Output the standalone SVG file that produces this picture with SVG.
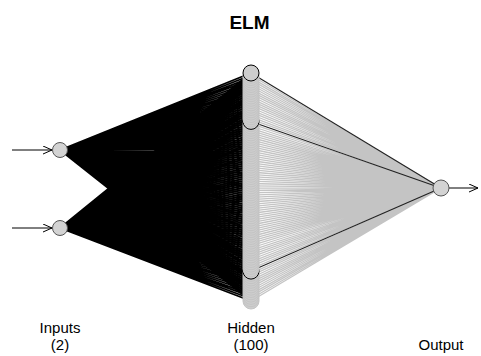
<svg xmlns="http://www.w3.org/2000/svg" width="481" height="356" viewBox="0 0 481 356">
<style>
text{font-family:"Liberation Sans",Arial,sans-serif;fill:#000}
.t{font-size:19px;font-weight:bold}
.l{font-size:15px}
.fb{stroke:#000;stroke-width:1.7;fill:none}
.fg{stroke:#c4c4c4;stroke-width:1.3;fill:none}
.ob{stroke:#222;stroke-width:1.1;fill:none}
.ar{stroke:#000;stroke-width:1;fill:none}
.n{fill:#d3d3d3;stroke:#555;stroke-width:1}
.h{fill:#cdcdcd;stroke:#c4c4c4;stroke-width:1}
.hb{fill:#cdcdcd;stroke:#000;stroke-width:1}
</style>
<defs>
<marker id="arr" markerWidth="10" markerHeight="10" refX="9" refY="4" orient="auto" markerUnits="userSpaceOnUse">
<path d="M0,0 L9,4 L0,8" fill="none" stroke="#000" stroke-width="1"/>
</marker>
</defs>
<rect width="481" height="356" fill="#fff"/>
<text class="t" x="249.5" y="29" text-anchor="middle">ELM</text>
<g id="connectors">
<path class="ar" d="M12,150 L52,150" marker-end="url(#arr)"/>
<path class="ar" d="M12,228 L52,228" marker-end="url(#arr)"/>
<path class="ar" d="M449,188 L478,188" marker-end="url(#arr)"/>
<path class="fb" d="M60,150L251,73.0M60,150L251,75.3M60,150L251,77.6M60,150L251,79.9M60,150L251,82.2M60,150L251,84.5M60,150L251,86.8M60,150L251,89.1M60,150L251,91.4M60,150L251,93.7M60,150L251,96.0M60,150L251,98.3M60,150L251,100.6M60,150L251,102.9M60,150L251,105.2M60,150L251,107.5M60,150L251,109.8M60,150L251,112.1M60,150L251,114.5M60,150L251,116.8M60,150L251,119.1M60,150L251,121.4M60,150L251,123.7M60,150L251,126.0M60,150L251,128.3M60,150L251,130.6M60,150L251,132.9M60,150L251,135.2M60,150L251,137.5M60,150L251,139.8M60,150L251,142.1M60,150L251,144.4M60,150L251,146.7M60,150L251,149.0M60,150L251,151.3M60,150L251,153.6M60,150L251,155.9M60,150L251,158.2M60,150L251,160.5M60,150L251,162.8M60,150L251,165.1M60,150L251,167.4M60,150L251,169.7M60,150L251,172.0M60,150L251,174.3M60,150L251,176.6M60,150L251,178.9M60,150L251,181.2M60,150L251,183.5M60,150L251,185.8M60,150L251,188.2M60,150L251,190.5M60,150L251,192.8M60,150L251,195.1M60,150L251,197.4M60,150L251,199.7M60,150L251,202.0M60,150L251,204.3M60,150L251,206.6M60,150L251,208.9M60,150L251,211.2M60,150L251,213.5M60,150L251,215.8M60,150L251,218.1M60,150L251,220.4M60,150L251,222.7M60,150L251,225.0M60,150L251,227.3M60,150L251,229.6M60,150L251,231.9M60,150L251,234.2M60,150L251,236.5M60,150L251,238.8M60,150L251,241.1M60,150L251,243.4M60,150L251,245.7M60,150L251,248.0M60,150L251,250.3M60,150L251,252.6M60,150L251,254.9M60,150L251,257.2M60,150L251,259.5M60,150L251,261.8M60,150L251,264.1M60,150L251,266.4M60,150L251,268.8M60,150L251,271.1M60,150L251,273.4M60,150L251,275.7M60,150L251,278.0M60,150L251,280.3M60,150L251,282.6M60,150L251,284.9M60,150L251,287.2M60,150L251,289.5M60,150L251,291.8M60,150L251,294.1M60,150L251,296.4M60,150L251,298.7M60,150L251,301.0"/>
<path class="fb" d="M60,228L251,73.0M60,228L251,75.3M60,228L251,77.6M60,228L251,79.9M60,228L251,82.2M60,228L251,84.5M60,228L251,86.8M60,228L251,89.1M60,228L251,91.4M60,228L251,93.7M60,228L251,96.0M60,228L251,98.3M60,228L251,100.6M60,228L251,102.9M60,228L251,105.2M60,228L251,107.5M60,228L251,109.8M60,228L251,112.1M60,228L251,114.5M60,228L251,116.8M60,228L251,119.1M60,228L251,121.4M60,228L251,123.7M60,228L251,126.0M60,228L251,128.3M60,228L251,130.6M60,228L251,132.9M60,228L251,135.2M60,228L251,137.5M60,228L251,139.8M60,228L251,142.1M60,228L251,144.4M60,228L251,146.7M60,228L251,149.0M60,228L251,151.3M60,228L251,153.6M60,228L251,155.9M60,228L251,158.2M60,228L251,160.5M60,228L251,162.8M60,228L251,165.1M60,228L251,167.4M60,228L251,169.7M60,228L251,172.0M60,228L251,174.3M60,228L251,176.6M60,228L251,178.9M60,228L251,181.2M60,228L251,183.5M60,228L251,185.8M60,228L251,188.2M60,228L251,190.5M60,228L251,192.8M60,228L251,195.1M60,228L251,197.4M60,228L251,199.7M60,228L251,202.0M60,228L251,204.3M60,228L251,206.6M60,228L251,208.9M60,228L251,211.2M60,228L251,213.5M60,228L251,215.8M60,228L251,218.1M60,228L251,220.4M60,228L251,222.7M60,228L251,225.0M60,228L251,227.3M60,228L251,229.6M60,228L251,231.9M60,228L251,234.2M60,228L251,236.5M60,228L251,238.8M60,228L251,241.1M60,228L251,243.4M60,228L251,245.7M60,228L251,248.0M60,228L251,250.3M60,228L251,252.6M60,228L251,254.9M60,228L251,257.2M60,228L251,259.5M60,228L251,261.8M60,228L251,264.1M60,228L251,266.4M60,228L251,268.8M60,228L251,271.1M60,228L251,273.4M60,228L251,275.7M60,228L251,278.0M60,228L251,280.3M60,228L251,282.6M60,228L251,284.9M60,228L251,287.2M60,228L251,289.5M60,228L251,291.8M60,228L251,294.1M60,228L251,296.4M60,228L251,298.7M60,228L251,301.0"/>
<path class="fg" d="M251,75.3L441,188M251,77.6L441,188M251,79.9L441,188M251,82.2L441,188M251,84.5L441,188M251,86.8L441,188M251,89.1L441,188M251,91.4L441,188M251,93.7L441,188M251,96.0L441,188M251,98.3L441,188M251,100.6L441,188M251,102.9L441,188M251,105.2L441,188M251,107.5L441,188M251,109.8L441,188M251,112.1L441,188M251,114.5L441,188M251,116.8L441,188M251,119.1L441,188M251,123.7L441,188M251,126.0L441,188M251,128.3L441,188M251,130.6L441,188M251,132.9L441,188M251,135.2L441,188M251,137.5L441,188M251,139.8L441,188M251,142.1L441,188M251,144.4L441,188M251,146.7L441,188M251,149.0L441,188M251,151.3L441,188M251,153.6L441,188M251,155.9L441,188M251,158.2L441,188M251,160.5L441,188M251,162.8L441,188M251,165.1L441,188M251,167.4L441,188M251,169.7L441,188M251,172.0L441,188M251,174.3L441,188M251,176.6L441,188M251,178.9L441,188M251,181.2L441,188M251,183.5L441,188M251,185.8L441,188M251,188.2L441,188M251,190.5L441,188M251,192.8L441,188M251,195.1L441,188M251,197.4L441,188M251,199.7L441,188M251,202.0L441,188M251,204.3L441,188M251,206.6L441,188M251,208.9L441,188M251,211.2L441,188M251,213.5L441,188M251,215.8L441,188M251,218.1L441,188M251,220.4L441,188M251,222.7L441,188M251,225.0L441,188M251,227.3L441,188M251,229.6L441,188M251,231.9L441,188M251,234.2L441,188M251,236.5L441,188M251,238.8L441,188M251,241.1L441,188M251,243.4L441,188M251,245.7L441,188M251,248.0L441,188M251,250.3L441,188M251,252.6L441,188M251,254.9L441,188M251,257.2L441,188M251,259.5L441,188M251,261.8L441,188M251,264.1L441,188M251,266.4L441,188M251,268.8L441,188M251,273.4L441,188M251,275.7L441,188M251,278.0L441,188M251,280.3L441,188M251,282.6L441,188M251,284.9L441,188M251,287.2L441,188M251,289.5L441,188M251,291.8L441,188M251,294.1L441,188M251,296.4L441,188M251,298.7L441,188M251,301.0L441,188"/>
<line class="ob" x1="251" y1="73" x2="441" y2="188"/>
<line class="ob" x1="251" y1="121.4" x2="441" y2="188"/>
<line class="ob" x1="251" y1="271.1" x2="441" y2="188"/>
</g>
<g id="in1"><circle class="n" cx="60" cy="150" r="7.5"/></g>
<g id="in2"><circle class="n" cx="60" cy="228" r="7.5"/></g>
<g id="h100"><circle class="h" cx="251" cy="301.0" r="8"/></g>
<g id="h99"><circle class="h" cx="251" cy="298.7" r="8"/></g>
<g id="h98"><circle class="h" cx="251" cy="296.4" r="8"/></g>
<g id="h97"><circle class="h" cx="251" cy="294.1" r="8"/></g>
<g id="h96"><circle class="h" cx="251" cy="291.8" r="8"/></g>
<g id="h95"><circle class="h" cx="251" cy="289.5" r="8"/></g>
<g id="h94"><circle class="h" cx="251" cy="287.2" r="8"/></g>
<g id="h93"><circle class="h" cx="251" cy="284.9" r="8"/></g>
<g id="h92"><circle class="h" cx="251" cy="282.6" r="8"/></g>
<g id="h91"><circle class="h" cx="251" cy="280.3" r="8"/></g>
<g id="h90"><circle class="h" cx="251" cy="278.0" r="8"/></g>
<g id="h89"><circle class="h" cx="251" cy="275.7" r="8"/></g>
<g id="h88"><circle class="h" cx="251" cy="273.4" r="8"/></g>
<g id="h87"><circle class="hb" cx="251" cy="271.1" r="8"/></g>
<g id="h86"><circle class="h" cx="251" cy="268.8" r="8"/></g>
<g id="h85"><circle class="h" cx="251" cy="266.4" r="8"/></g>
<g id="h84"><circle class="h" cx="251" cy="264.1" r="8"/></g>
<g id="h83"><circle class="h" cx="251" cy="261.8" r="8"/></g>
<g id="h82"><circle class="h" cx="251" cy="259.5" r="8"/></g>
<g id="h81"><circle class="h" cx="251" cy="257.2" r="8"/></g>
<g id="h80"><circle class="h" cx="251" cy="254.9" r="8"/></g>
<g id="h79"><circle class="h" cx="251" cy="252.6" r="8"/></g>
<g id="h78"><circle class="h" cx="251" cy="250.3" r="8"/></g>
<g id="h77"><circle class="h" cx="251" cy="248.0" r="8"/></g>
<g id="h76"><circle class="h" cx="251" cy="245.7" r="8"/></g>
<g id="h75"><circle class="h" cx="251" cy="243.4" r="8"/></g>
<g id="h74"><circle class="h" cx="251" cy="241.1" r="8"/></g>
<g id="h73"><circle class="h" cx="251" cy="238.8" r="8"/></g>
<g id="h72"><circle class="h" cx="251" cy="236.5" r="8"/></g>
<g id="h71"><circle class="h" cx="251" cy="234.2" r="8"/></g>
<g id="h70"><circle class="h" cx="251" cy="231.9" r="8"/></g>
<g id="h69"><circle class="h" cx="251" cy="229.6" r="8"/></g>
<g id="h68"><circle class="h" cx="251" cy="227.3" r="8"/></g>
<g id="h67"><circle class="h" cx="251" cy="225.0" r="8"/></g>
<g id="h66"><circle class="h" cx="251" cy="222.7" r="8"/></g>
<g id="h65"><circle class="h" cx="251" cy="220.4" r="8"/></g>
<g id="h64"><circle class="h" cx="251" cy="218.1" r="8"/></g>
<g id="h63"><circle class="h" cx="251" cy="215.8" r="8"/></g>
<g id="h62"><circle class="h" cx="251" cy="213.5" r="8"/></g>
<g id="h61"><circle class="h" cx="251" cy="211.2" r="8"/></g>
<g id="h60"><circle class="h" cx="251" cy="208.9" r="8"/></g>
<g id="h59"><circle class="h" cx="251" cy="206.6" r="8"/></g>
<g id="h58"><circle class="h" cx="251" cy="204.3" r="8"/></g>
<g id="h57"><circle class="h" cx="251" cy="202.0" r="8"/></g>
<g id="h56"><circle class="h" cx="251" cy="199.7" r="8"/></g>
<g id="h55"><circle class="h" cx="251" cy="197.4" r="8"/></g>
<g id="h54"><circle class="h" cx="251" cy="195.1" r="8"/></g>
<g id="h53"><circle class="h" cx="251" cy="192.8" r="8"/></g>
<g id="h52"><circle class="h" cx="251" cy="190.5" r="8"/></g>
<g id="h51"><circle class="h" cx="251" cy="188.2" r="8"/></g>
<g id="h50"><circle class="h" cx="251" cy="185.8" r="8"/></g>
<g id="h49"><circle class="h" cx="251" cy="183.5" r="8"/></g>
<g id="h48"><circle class="h" cx="251" cy="181.2" r="8"/></g>
<g id="h47"><circle class="h" cx="251" cy="178.9" r="8"/></g>
<g id="h46"><circle class="h" cx="251" cy="176.6" r="8"/></g>
<g id="h45"><circle class="h" cx="251" cy="174.3" r="8"/></g>
<g id="h44"><circle class="h" cx="251" cy="172.0" r="8"/></g>
<g id="h43"><circle class="h" cx="251" cy="169.7" r="8"/></g>
<g id="h42"><circle class="h" cx="251" cy="167.4" r="8"/></g>
<g id="h41"><circle class="h" cx="251" cy="165.1" r="8"/></g>
<g id="h40"><circle class="h" cx="251" cy="162.8" r="8"/></g>
<g id="h39"><circle class="h" cx="251" cy="160.5" r="8"/></g>
<g id="h38"><circle class="h" cx="251" cy="158.2" r="8"/></g>
<g id="h37"><circle class="h" cx="251" cy="155.9" r="8"/></g>
<g id="h36"><circle class="h" cx="251" cy="153.6" r="8"/></g>
<g id="h35"><circle class="h" cx="251" cy="151.3" r="8"/></g>
<g id="h34"><circle class="h" cx="251" cy="149.0" r="8"/></g>
<g id="h33"><circle class="h" cx="251" cy="146.7" r="8"/></g>
<g id="h32"><circle class="h" cx="251" cy="144.4" r="8"/></g>
<g id="h31"><circle class="h" cx="251" cy="142.1" r="8"/></g>
<g id="h30"><circle class="h" cx="251" cy="139.8" r="8"/></g>
<g id="h29"><circle class="h" cx="251" cy="137.5" r="8"/></g>
<g id="h28"><circle class="h" cx="251" cy="135.2" r="8"/></g>
<g id="h27"><circle class="h" cx="251" cy="132.9" r="8"/></g>
<g id="h26"><circle class="h" cx="251" cy="130.6" r="8"/></g>
<g id="h25"><circle class="h" cx="251" cy="128.3" r="8"/></g>
<g id="h24"><circle class="h" cx="251" cy="126.0" r="8"/></g>
<g id="h23"><circle class="h" cx="251" cy="123.7" r="8"/></g>
<g id="h22"><circle class="hb" cx="251" cy="121.4" r="8"/></g>
<g id="h21"><circle class="h" cx="251" cy="119.1" r="8"/></g>
<g id="h20"><circle class="h" cx="251" cy="116.8" r="8"/></g>
<g id="h19"><circle class="h" cx="251" cy="114.5" r="8"/></g>
<g id="h18"><circle class="h" cx="251" cy="112.1" r="8"/></g>
<g id="h17"><circle class="h" cx="251" cy="109.8" r="8"/></g>
<g id="h16"><circle class="h" cx="251" cy="107.5" r="8"/></g>
<g id="h15"><circle class="h" cx="251" cy="105.2" r="8"/></g>
<g id="h14"><circle class="h" cx="251" cy="102.9" r="8"/></g>
<g id="h13"><circle class="h" cx="251" cy="100.6" r="8"/></g>
<g id="h12"><circle class="h" cx="251" cy="98.3" r="8"/></g>
<g id="h11"><circle class="h" cx="251" cy="96.0" r="8"/></g>
<g id="h10"><circle class="h" cx="251" cy="93.7" r="8"/></g>
<g id="h9"><circle class="h" cx="251" cy="91.4" r="8"/></g>
<g id="h8"><circle class="h" cx="251" cy="89.1" r="8"/></g>
<g id="h7"><circle class="h" cx="251" cy="86.8" r="8"/></g>
<g id="h6"><circle class="h" cx="251" cy="84.5" r="8"/></g>
<g id="h5"><circle class="h" cx="251" cy="82.2" r="8"/></g>
<g id="h4"><circle class="h" cx="251" cy="79.9" r="8"/></g>
<g id="h3"><circle class="h" cx="251" cy="77.6" r="8"/></g>
<g id="h2"><circle class="h" cx="251" cy="75.3" r="8"/></g>
<g id="h1"><circle class="hb" cx="251" cy="73.0" r="8"/></g>
<g id="out"><circle class="n" cx="441" cy="188" r="8"/></g>
<text class="l" x="60" y="333" text-anchor="middle">Inputs</text>
<text class="l" x="60" y="350" text-anchor="middle">(2)</text>
<text class="l" x="251" y="333" text-anchor="middle">Hidden</text>
<text class="l" x="251" y="350" text-anchor="middle">(100)</text>
<text class="l" x="441" y="350" text-anchor="middle">Output</text>
</svg>
